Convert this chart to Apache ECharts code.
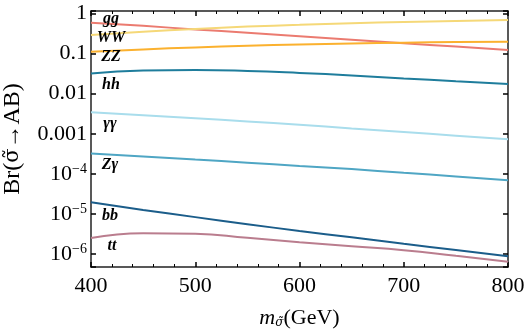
<!DOCTYPE html>
<html lang="en">
<head>
    <meta charset="UTF-8">
    <title>Br</title>
    <script src="https://cdn.jsdelivr.net/npm/echarts@6/dist/echarts.min.js"></script>
</head>
<body style="margin:0">
<div id="main" style="width: 526px;height:332px;"></div>

<script type="text/javascript">
    // masses (GeV)
    var mass = [400, 450, 500, 550, 600, 650, 700, 750, 800];

    // branching ratios
    var brGG = [0.59, 0.49, 0.40, 0.33, 0.27, 0.22, 0.18, 0.15, 0.123];
    var brWW = [0.29, 0.35, 0.41, 0.47, 0.52, 0.57, 0.61, 0.65, 0.69];
    var brZZ = [0.111, 0.127, 0.142, 0.156, 0.168, 0.179, 0.187, 0.193, 0.198];
    var brHH = [0.032, 0.038, 0.039, 0.037, 0.033, 0.0285, 0.024, 0.0205, 0.0175];
    var brAA = [0.00343, 0.00292, 0.00245, 0.00204, 0.00168, 0.00136, 0.00111, 0.00090, 0.00073];
    var brZA = [3.25e-4, 2.72e-4, 2.28e-4, 1.91e-4, 1.58e-4, 1.32e-4, 1.07e-4, 8.7e-5, 7.0e-5];
    var brBB = [1.98e-5, 1.27e-5, 8.4e-6, 5.6e-6, 3.8e-6, 2.63e-6, 1.82e-6, 1.27e-6, 8.9e-7];
    var brTT = [2.55e-6, 3.35e-6, 3.24e-6, 2.57e-6, 2.0e-6, 1.58e-6, 1.26e-6, 9.1e-7, 6.5e-7];

    var xTicks = [400, 500, 600, 700, 800];

    var font = '"Liberation Serif", "DejaVu Serif", serif';
    var font2 = '"DejaVu Serif", serif';

    var myChart = echarts.init(document.getElementById('main'));

    function pairs(ys) {
        return mass.map(function (m, i) { return [m, ys[i]]; });
    }

    function line(name, ys, color) {
        return {
            name: name,
            type: 'line',
            smooth: true,
            symbol: 'none',
            data: pairs(ys),
            lineStyle: { color: color, width: 2 },
            itemStyle: { color: color },
            z: 3
        };
    }

    function yLabel(v) {
        var e = Math.log10(v);
        var r = Math.round(e);
        if (Math.abs(e - r) > 1e-6) return '';
        if (r === 0) return '1';
        if (r === -1) return '0.1';
        if (r === -2) return '0.01';
        if (r === -3) return '0.001';
        return '10{sup|\u2212' + (-r) + '}';
    }

    var axisLine = { show: true, lineStyle: { color: '#222', width: 1.5 } };
    var tick = { show: true, inside: true, length: 5, lineStyle: { color: '#000', width: 1.5 } };
    var minor = { show: true, splitNumber: 5, length: 3, lineStyle: { color: '#000', width: 1 } };

    option = {
        animation: false,
        grid: { left: 91, right: 18, top: 11, bottom: 65, outerBoundsMode: 'none', containLabel: false },
        xAxis: [{
            type: 'value',
            min: xTicks[0],
            max: xTicks[xTicks.length - 1],
            interval: 100,
            name: '{m|m}{sub|\u03c3\u0303}(GeV)',
            nameLocation: 'middle',
            nameGap: 40,
            nameTextStyle: {
                fontFamily: font, fontSize: 22, color: '#000',
                rich: {
                    m: { fontFamily: font, fontSize: 22, fontStyle: 'italic', color: '#000' },
                    sub: { fontFamily: font2, fontSize: 12, fontStyle: 'italic', color: '#000', verticalAlign: 'bottom', padding: [10, 0, 0, 0] }
                }
            },
            axisLine: axisLine,
            axisTick: tick,
            minorTick: minor,
            splitLine: { show: false },
            axisLabel: { fontFamily: font, fontSize: 22, color: '#000', margin: 8 }
        }, {
            type: 'value',
            position: 'top',
            min: xTicks[0],
            max: xTicks[xTicks.length - 1],
            interval: 100,
            axisLine: axisLine,
            axisTick: tick,
            minorTick: minor,
            splitLine: { show: false },
            axisLabel: { show: false }
        }],
        yAxis: [{
            type: 'log',
            min: 4.8e-7,
            max: 1.15,
            name: 'Br({s|\u03c3\u0303}\u2192AB)',
            nameLocation: 'middle',
            nameGap: 66,
            nameTextStyle: {
                fontFamily: font, fontSize: 24, color: '#000',
                rich: { s: { fontFamily: font2, fontSize: 21, color: '#000' } }
            },
            axisLine: axisLine,
            axisTick: tick,
            splitLine: { show: false },
            axisLabel: {
                fontFamily: font, fontSize: 22, color: '#000', margin: 4,
                formatter: yLabel,
                rich: {
                    sup: { fontFamily: font, fontSize: 14, color: '#000', verticalAlign: 'top', padding: [0, 0, 10, 0] }
                }
            }
        }, {
            type: 'log',
            position: 'right',
            min: 4.8e-7,
            max: 1.15,
            axisLine: axisLine,
            axisTick: tick,
            splitLine: { show: false },
            axisLabel: { show: false }
        }],
        graphic: [
            ['gg', 111, 19], ['WW', 111, 38], ['ZZ', 111, 57], ['hh', 111, 85],
            ['\u03b3\u03b3', 110, 124], ['Z\u03b3', 110, 165], ['bb', 110, 216], ['tt', 112, 246]
        ].map(function (t) {
            return {
                type: 'text',
                x: t[1], y: t[2],
                style: {
                    text: t[0],
                    font: 'italic bold 16px ' + font,
                    fill: '#000',
                    align: 'center',
                    verticalAlign: 'middle'
                },
                z: 10
            };
        }),
        series: [
            line('gg', brGG, '#EB7B70'),
            line('WW', brWW, '#F5D878'),
            line('ZZ', brZZ, '#FBB12F'),
            line('hh', brHH, '#1F7D9C'),
            line('\u03b3\u03b3', brAA, '#A9DDEC'),
            line('Z\u03b3', brZA, '#4FA6C4'),
            line('bb', brBB, '#1B5D8A'),
            line('tt', brTT, '#BA7D8E')
        ]
    };

    myChart.setOption(option);
</script>
</body>
</html>
